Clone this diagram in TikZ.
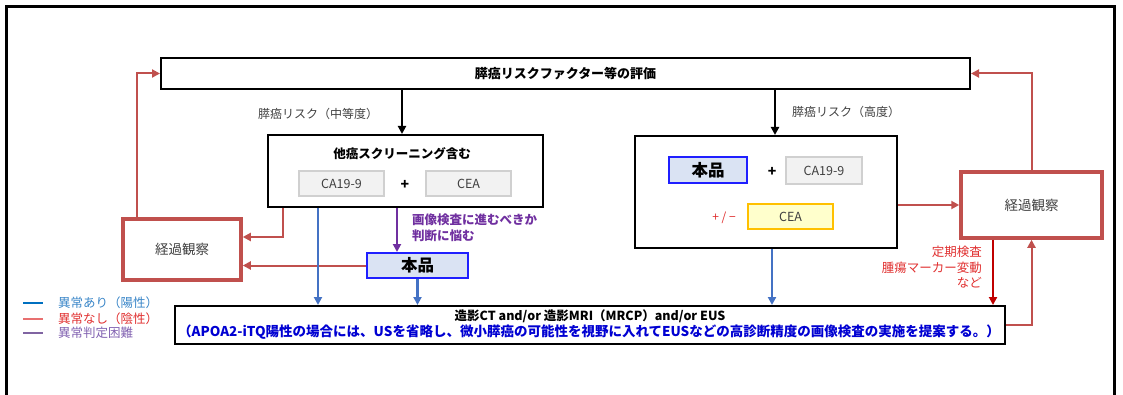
\documentclass[tikz,border=0pt]{standalone}
\usepackage{fontspec}
\setmainfont{Noto Sans CJK JP}
\usetikzlibrary{arrows.meta,calc}
\definecolor{rl}{HTML}{C0504D}
\definecolor{drl}{HTML}{C00000}
\definecolor{bl}{HTML}{4472C4}
\definecolor{pu}{HTML}{7030A0}
\definecolor{tx}{HTML}{404040}
\definecolor{hfill}{HTML}{DAE3F3}
\definecolor{hbord}{HTML}{1F1FFF}
\definecolor{gfill}{HTML}{F2F2F2}
\definecolor{gbord}{HTML}{D0D0D0}
\definecolor{yfill}{HTML}{FFFFCC}
\definecolor{ybord}{HTML}{FFC000}
\definecolor{lgb}{HTML}{3A86C8}
\definecolor{lgr}{HTML}{E03030}
\definecolor{lgp}{HTML}{8060B0}
\definecolor{lgrl}{HTML}{E87070}
\definecolor{lgpl}{HTML}{8064A2}
\definecolor{lgbl}{HTML}{0070C0}
\tikzset{
  f/.style={font=\fontsize{#1}{#1}\selectfont},
  blk/.style={draw=black, line width=2pt, fill=white, inner sep=0pt},
  obs/.style={draw=rl, line width=3.5pt, fill=white, inner sep=0pt, text=tx, f=13.5},
  hon/.style={draw=hbord, line width=2pt, fill=hfill, inner sep=0pt, font=\fontsize{16.5}{16.5}\selectfont\bfseries},
  gbox/.style={draw=gbord, line width=1.2pt, fill=gfill, inner sep=0pt, text=tx, f=12.5},
  ybox/.style={draw=ybord, line width=1.8pt, fill=yfill, inner sep=0pt, text=tx, f=12.5},
  lab/.style={inner sep=0pt, text=tx, f=12},
  tip/.style={-{Triangle[length=8pt,width=8pt]}},
  rline/.style={draw=rl, line width=2pt, tip},
  bline/.style={draw=bl, line width=2.5pt, tip},
  kline/.style={draw=black, line width=2.5pt, tip},
}
\begin{document}
\begin{tikzpicture}[x=1pt,y=-1pt]
\useasboundingbox (0,0) rectangle (1123,395);
% outer frame
\draw[line width=3pt] (6,400) -- (6,7) -- (1114,7) -- (1114,400);

% nodes
\node[blk, minimum width=809pt, minimum height=31pt, font=\fontsize{13}{13}\selectfont\bfseries] (top) at (565.5,73.5) {膵癌リスクファクター等の評価};

\node[blk, minimum width=275pt, minimum height=72pt] (ml) at (405.5,171) {};
\node[inner sep=0pt, font=\fontsize{12.5}{12.5}\selectfont\bfseries] (mlt) at (402,154) {他癌スクリーニング含む};
\node[gbox, minimum width=85pt, minimum height=25pt] (ca1) at (341.5,183.5) {CA19-9};
\node[inner sep=0pt, font=\fontsize{14}{14}\selectfont\bfseries] (pl1) at (405,185) {+};
\node[gbox, minimum width=85pt, minimum height=25pt] (cea1) at (468.5,183.5) {CEA};

\node[blk, minimum width=262pt, minimum height=112pt] (mr) at (766,192) {};
\node[hon, minimum width=78pt, minimum height=26pt] (hon1) at (708,170) {本品};
\node[inner sep=0pt, font=\fontsize{14}{14}\selectfont\bfseries] (pl2) at (772,172) {+};
\node[gbox, minimum width=76pt, minimum height=27pt] (ca2) at (824,170.5) {CA19-9};
\node[inner sep=0pt, text=lgr, f=12] (pm) at (724,218) {+ / −};
\node[ybox, minimum width=85pt, minimum height=25pt] (cea2) at (790.5,216.5) {CEA};

\node[obs, minimum width=118pt, minimum height=61pt] (obsL) at (182,249.5) {経過観察};
\node[obs, minimum width=141pt, minimum height=66pt] (obsR) at (1031.5,205) {経過観察};
\node[hon, minimum width=101pt, minimum height=25pt] (hon2) at (417.5,265.5) {本品};

\node[blk, minimum width=830pt, minimum height=38pt] (img) at (590,325) {};
\node[inner sep=0pt, font=\fontsize{12.5}{12.5}\selectfont\bfseries] (imgt1) at (590,316.5) {造影CT and/or 造影MRI（MRCP）and/or EUS};
\node[inner sep=0pt, text={rgb,255:red,0;green,0;blue,210}, font=\fontsize{13.5}{13.5}\selectfont\bfseries] (imgt2) at (589,332) {（APOA2-iTQ陽性の場合には、USを省略し、微小膵癌の可能性を視野に入れてEUSなどの高診断精度の画像検査の実施を提案する。）};

% labels
\node[lab] (lab1) at (318,114) {膵癌リスク（中等度）};
\node[lab] (lab2) at (846,112) {膵癌リスク（高度）};
\node[inner sep=0pt, text=pu, align=left, font=\fontsize{12.5}{16}\selectfont\bfseries, anchor=north west] (plab) at (412,214) {画像検査に進むべきか\\判断に悩む};
\node[inner sep=0pt, text=lgr, align=right, font=\fontsize{12.5}{15.5}\selectfont, anchor=north east] (rlab) at (982,246) {定期検査\\腫瘍マーカー変動\\など};

% x positions
\coordinate (xk1) at (402,0);
\coordinate (xk2) at (775,0);
\coordinate (xr1) at (137,0);
\coordinate (xr2) at (283,0);
\coordinate (xb1) at (318,0);
\coordinate (xp1) at (397,0);
\coordinate (xb3) at (772,0);
\coordinate (xd1) at (993,0);
\coordinate (yr1) at (0,237);

% connectors
\draw[kline] (top.south -| xk1) -- (ml.north -| xk1);
\draw[kline] (top.south -| xk2) -- (mr.north -| xk2);
\draw[rline] (obsL.north -| xr1) |- (top.west);
\draw[rline] (obsR.north) |- (top.east);
\draw[rline] (ml.south -| xr2) |- (obsL.east |- yr1);
\draw[rline] (hon2.west) -- (hon2.west -| obsL.east);
\draw[bline] (ml.south -| xb1) -- (img.north -| xb1);
\draw[draw=pu, line width=2pt, tip] (ml.south -| xp1) -- (hon2.north -| xp1);
\draw[bline] (hon2.south) -- (img.north -| hon2.south);
\draw[bline] (mr.south -| xb3) -- (img.north -| xb3);
\draw[rline] (mr.east |- obsR.west) -- (obsR.west);
\draw[draw=drl, line width=2pt, tip] (obsR.south -| xd1) -- (img.north -| xd1);
\draw[rline] (img.east) -| (obsR.south);

% legend
\coordinate (lg1) at (23,303);
\coordinate (lg2) at (23,319);
\coordinate (lg3) at (23,333);
\draw[lgbl, line width=1.2pt] (lg1) -- ++(20,0);
\draw[lgrl, line width=1.8pt] (lg2) -- ++(20,0);
\draw[lgpl, line width=1.2pt] (lg3) -- ++(20,0);
\node[inner sep=0pt, anchor=west, text=lgb, f=12.5] (lt1) at (58,303) {異常あり（陽性）};
\node[inner sep=0pt, anchor=west, text=lgr, f=12.5] (lt2) at (58,319) {異常なし（陰性）};
\node[inner sep=0pt, anchor=west, text=lgp, f=12.5] (lt3) at (58,333) {異常判定困難};
\end{tikzpicture}
\end{document}
